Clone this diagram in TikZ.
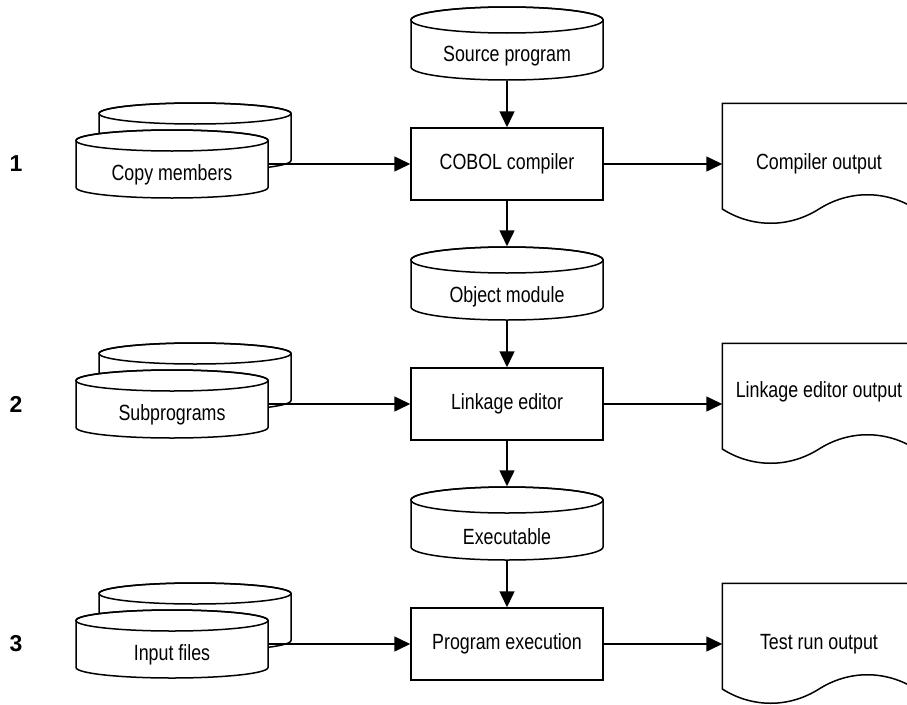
\documentclass[tikz,border=0pt]{standalone}
\usepackage{fontspec}
\setmainfont[FakeStretch=0.81]{Liberation Sans}
\newfontfamily\stepfont{Liberation Sans}
\usetikzlibrary{arrows.meta,calc}

% disk store: name, x, y, height, end radius, text
\newcommand{\store}[6]{%
  \draw[fill=white] (#2-96,#3+#4/2-#5) -- (#2-96,#3-#4/2+#5)
    arc[start angle=180,end angle=360,x radius=96pt,y radius=#5pt]
    -- (#2+96,#3+#4/2-#5)
    arc[start angle=0,end angle=180,x radius=96pt,y radius=#5pt] -- cycle;
  \draw (#2,#3+#4/2-#5) ellipse[x radius=96pt,y radius=#5pt];
  \node[minimum width=192pt,minimum height=#4pt,inner sep=0pt,
        label={[yshift=-#5pt]center:#6}] (#1) at (#2,#3) {};
}

% printout with a wavy bottom edge
\newcommand{\paper}[1]{%
  \draw (#1.north west) -- ($(#1.west)+(0,-45)$)
    .. controls ($(#1.west)+(30,-64)$) and ($(#1.center)+(-30,-64)$) .. ($(#1.center)+(0,-45)$)
    .. controls ($(#1.center)+(30,-26)$) and ($(#1.east)+(-30,-26)$) .. ($(#1.east)+(0,-45)$)
    -- (#1.north east) -- cycle;
}

\begin{document}
\begin{tikzpicture}[
  x=1pt, y=1pt, line width=1.5pt,
  >={Triangle[length=16pt,width=15pt]},
  font=\fontsize{22}{26}\selectfont,
  proc/.style={draw, minimum width=192pt, minimum height=72pt, inner sep=0pt},
  doc/.style={minimum width=192pt, minimum height=120pt, inner sep=0pt},
  num/.style={font=\stepfont\bfseries\fontsize{23}{26}\selectfont},
  flow/.style={->},
]
\useasboundingbox (0,0) rectangle (907,-704);
\clip (0,0) rectangle (907,-704);

% main column
\store{src}{507}{-43.5}{73}{13}{Source program}
\node[proc] (cob) at (507,-164) {COBOL compiler};
\store{obj}{507}{-283.5}{73}{13}{Object module}
\node[proc] (lnk) at (507,-404) {Linkage editor};
\store{exe}{507}{-523.5}{73}{13}{Executable}
\node[proc] (run) at (507,-644) {Program execution};

% inputs on the left
\store{copyb}{195}{-137}{68}{10.5}{}
\store{copy}{172}{-164}{68}{10.5}{Copy members}
\store{subb}{195}{-377}{68}{10.5}{}
\store{sub}{172}{-404}{68}{10.5}{Subprograms}
\store{inb}{195}{-617}{68}{10.5}{}
\store{in}{172}{-644}{68}{10.5}{Input files}

% outputs on the right
\node[doc, label=center:Compiler output] (cout) at (819,-164) {};
\node[doc, label={[yshift=12pt]center:Linkage editor output}] (lout) at (819,-404) {};
\node[doc, label=center:Test run output] (tout) at (819,-644) {};
\paper{cout}
\paper{lout}
\paper{tout}

% step numbers
\node[num] (n1) at (16,-164) {1};
\node[num] (n2) at (16,-404) {2};
\node[num] (n3) at (16,-644) {3};

\draw[flow] (src.south) -- (cob.north);
\draw[flow] (cob.south) -- (obj.north);
\draw[flow] (obj.south) -- (lnk.north);
\draw[flow] (lnk.south) -- (exe.north);
\draw[flow] (exe.south) -- (run.north);

\draw[flow] (copy.east) -- (cob.west);
\draw[flow] (sub.east) -- (lnk.west);
\draw[flow] (in.east) -- (run.west);

\draw[flow] (cob.east) -- (cout.west);
\draw[flow] (lnk.east) -- (lout.west);
\draw[flow] (run.east) -- (tout.west);
\end{tikzpicture}
\end{document}
